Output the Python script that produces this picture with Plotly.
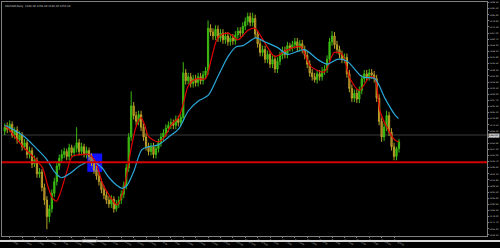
import plotly.graph_objects as go

# ---------------- data ----------------
bar_index = list(range(160))

opens = [1266,1270,1268,1273,1262,1267,1257,1262,1250,1254,
         1242,1246,1232,1236,1222,1224,1208,1195,1178,1186,
         1202,1214,1230,1238,1242,1245,1240,1249,1244,1248,
         1254,1245,1250,1243,1246,1240,1234,1226,1220,1214,
         1206,1200,1195,1191,1196,1186,1191,1195,1201,1210,
         1228,1260,1292,1282,1276,1283,1270,1260,1250,1245,
         1250,1242,1248,1254,1260,1264,1269,1272,1275,1272,
         1278,1275,1280,1326,1318,1322,1315,1320,1316,1322,
         1318,1324,1328,1372,1368,1364,1371,1362,1367,1360,
         1364,1358,1362,1359,1365,1369,1367,1374,1379,1384,
         1378,1382,1366,1356,1347,1350,1340,1345,1335,1340,
         1330,1338,1344,1349,1345,1354,1352,1355,1358,1352,
         1356,1350,1344,1335,1326,1322,1319,1325,1322,1328,
         1330,1340,1358,1364,1355,1350,1345,1340,1342,1325,
         1310,1300,1305,1299,1308,1320,1325,1322,1326,1324,
         1320,1300,1276,1260,1270,1282,1265,1250,1240,1248]

highs = [1274,1275,1277,1276,1270,1271,1266,1265,1258,1257,
         1250,1249,1241,1239,1228,1227,1212,1199,1190,1206,
         1218,1234,1242,1247,1249,1248,1253,1252,1251,1270,
         1258,1254,1253,1250,1249,1243,1237,1230,1224,1217,
         1210,1204,1199,1200,1199,1195,1199,1205,1214,1232,
         1264,1307,1296,1286,1287,1287,1274,1264,1254,1254,
         1254,1252,1258,1264,1268,1273,1276,1279,1278,1282,
         1282,1284,1337,1330,1326,1326,1324,1324,1326,1326,
         1328,1332,1380,1376,1372,1375,1375,1371,1371,1368,
         1368,1366,1366,1369,1373,1373,1378,1383,1388,1388,
         1388,1386,1370,1360,1354,1354,1349,1349,1344,1344,
         1342,1348,1353,1353,1358,1357,1359,1362,1362,1360,
         1360,1354,1348,1339,1330,1326,1329,1329,1332,1334,
         1344,1362,1369,1368,1359,1354,1349,1346,1346,1329,
         1314,1309,1309,1312,1324,1329,1329,1330,1330,1328,
         1324,1304,1280,1274,1287,1286,1269,1254,1250,1258]

lows = [1262,1264,1265,1259,1258,1253,1254,1246,1247,1238,
        1238,1228,1229,1218,1218,1204,1190,1165,1172,1182,
        1198,1210,1226,1234,1238,1236,1236,1240,1240,1244,
        1241,1241,1239,1238,1236,1230,1222,1216,1210,1202,
        1196,1191,1187,1187,1182,1183,1187,1191,1197,1206,
        1224,1256,1278,1272,1272,1266,1256,1246,1241,1241,
        1238,1238,1244,1250,1256,1260,1265,1268,1268,1268,
        1271,1271,1276,1314,1314,1311,1311,1312,1312,1314,
        1314,1320,1324,1364,1360,1360,1358,1358,1356,1356,
        1354,1354,1355,1355,1361,1363,1363,1370,1375,1374,
        1374,1362,1352,1343,1343,1336,1336,1331,1331,1326,
        1326,1334,1340,1341,1341,1348,1348,1351,1348,1348,
        1346,1340,1331,1322,1318,1316,1315,1318,1318,1324,
        1326,1336,1354,1351,1346,1341,1336,1336,1321,1306,
        1296,1296,1295,1295,1304,1316,1318,1318,1320,1316,
        1296,1272,1255,1256,1266,1261,1246,1236,1236,1244]

closes = [1270,1268,1273,1262,1267,1257,1262,1250,1254,1242,
          1246,1232,1236,1222,1224,1208,1195,1178,1186,1202,
          1214,1230,1238,1242,1245,1240,1249,1244,1248,1254,
          1245,1250,1243,1246,1240,1234,1226,1220,1214,1206,
          1200,1195,1191,1196,1186,1191,1195,1201,1210,1228,
          1260,1292,1282,1276,1283,1270,1260,1250,1245,1250,
          1242,1248,1254,1260,1264,1269,1272,1275,1272,1278,
          1275,1280,1326,1318,1322,1315,1320,1316,1322,1318,
          1324,1328,1372,1368,1364,1371,1362,1367,1360,1364,
          1358,1362,1359,1365,1369,1367,1374,1379,1384,1378,
          1382,1366,1356,1347,1350,1340,1345,1335,1340,1330,
          1338,1344,1349,1345,1354,1352,1355,1358,1352,1356,
          1350,1344,1335,1326,1322,1319,1325,1322,1328,1330,
          1340,1358,1364,1355,1350,1345,1340,1342,1325,1310,
          1300,1305,1299,1308,1320,1325,1322,1326,1324,1320,
          1300,1276,1260,1270,1282,1265,1250,1240,1248,1255]

fast_ma_x = [0, 0.9, 4.1, 8.1, 12.1, 15.3, 17.3, 19.3, 20.9, 22.1, 24.9, 27.3,
             31.3, 34.1, 36.9, 39.3, 42.1, 45.3, 47.3, 48.9, 50.9, 52.9, 54.9,
             56.5, 58.1, 62.1, 64.5, 67.3, 70.1, 72.1, 74.1, 77.3, 80.9, 83.3,
             86.1, 90.1, 94.1, 98.1, 100.9, 104.9, 108.9, 114.1, 119.3, 123.3,
             128.9, 132.9, 136.1, 139.3, 143.0, 147.3, 149.3, 151.3, 154.1,
             157.3, 158.8]
fast_ma_y = [1271, 1270, 1260, 1248, 1238, 1228, 1210, 1197, 1194, 1200, 1223, 1240,
             1242, 1242, 1233, 1213, 1200, 1190, 1200, 1217, 1247, 1270, 1280,
             1272, 1260, 1255, 1260, 1273, 1280, 1295, 1313, 1320, 1320, 1340,
             1363, 1367, 1360, 1370, 1372, 1357, 1343, 1350, 1353, 1333,
             1327, 1347, 1345, 1320, 1308, 1322, 1320, 1287, 1270,
             1257, 1255]

slow_ma_x = [0, 3.3, 8.1, 12.1, 16.9, 20.1, 22.9, 26.1, 30.1, 33.3, 36.1, 39.3,
             42.1, 45.3, 47.3, 49.3, 52.1, 55.3, 58.1, 62.1, 66.1, 70.1, 74.1,
             78.1, 82.1, 86.1, 90.1, 93.3, 96.1, 101.3, 104.9, 110.1, 114.1,
             120.9, 126.1, 130.1, 134.1, 138.1, 144.1, 149.3, 153.3, 157.3, 158.8]
slow_ma_y = [1272, 1268, 1260, 1250, 1237, 1224, 1218, 1222, 1230, 1234, 1234, 1228,
             1218, 1210, 1207, 1210, 1225, 1247, 1250, 1252, 1260, 1268, 1287,
             1297, 1303, 1323, 1343, 1353, 1354, 1362, 1358, 1352, 1345,
             1350, 1340, 1335, 1340, 1338, 1322, 1320, 1300, 1283, 1279]

date_tick_pos = [2, 7, 12, 17, 22, 27, 32, 37, 42, 47, 52, 57, 62, 67, 72, 77,
                 82, 87, 92, 97, 102, 107, 112, 117, 122, 127, 132, 137, 142, 147, 152, 157]
date_labels = ["8 Jan 2018", "15 Jan 2018", "22 Jan 2018", "29 Jan 2018", "5 Feb 2018",
               "12 Feb 2018", "19 Feb 2018", "26 Feb 2018", "5 Mar 2018", "12 Mar 2018",
               "19 Mar 2018", "26 Mar 2018", "2 Apr 2018", "9 Apr 2018", "16 Apr 2018",
               "23 Apr 2018", "30 Apr 2018", "7 May 2018", "14 May 2018", "21 May 2018",
               "28 May 2018", "4 Jun 2018", "11 Jun 2018", "18 Jun 2018", "25 Jun 2018",
               "2 Jul 2018", "9 Jul 2018", "16 Jul 2018", "23 Jul 2018", "30 Jul 2018",
               "6 Aug 2018", "13 Aug 2018"]

current_price = 1262
support_level = 1234
zone_bars = [33.3, 39.3]
zone_prices = [1224, 1243]
chart_title = "XAUUSD,Daily  1248.20 1258.40 1244.10 1255.30"

# ---------------- figure ----------------
fig = go.Figure()

fig.add_trace(go.Candlestick(
    x=bar_index, open=opens, high=highs, low=lows, close=closes,
    increasing=dict(line=dict(color="#3dbb12", width=1), fillcolor="#3dbb12"),
    decreasing=dict(line=dict(color="#b9a12a", width=1), fillcolor="#a8501c"),
    whiskerwidth=0, showlegend=False, hoverinfo="skip"))

fig.add_trace(go.Scatter(x=fast_ma_x, y=fast_ma_y, mode="lines",
                         line=dict(color="#e00000", width=1.2, shape="spline", smoothing=0.8),
                         showlegend=False, hoverinfo="skip"))
fig.add_trace(go.Scatter(x=slow_ma_x, y=slow_ma_y, mode="lines",
                         line=dict(color="#2aa7d8", width=1.2, shape="spline", smoothing=0.8),
                         showlegend=False, hoverinfo="skip"))

# horizontal levels
fig.add_hline(y=current_price, line=dict(color="#3a3a3a", width=1), layer="below")
fig.add_hline(y=support_level, line=dict(color="#d40000", width=2), layer="above")

# blue zone
fig.add_shape(type="rect", xref="x", yref="y",
              x0=zone_bars[0], x1=zone_bars[1], y0=zone_prices[0], y1=zone_prices[1],
              fillcolor="#1010ff", line=dict(width=0), layer="below")

# bottom tab strip (y 246..248 px)
fig.add_shape(type="rect", xref="paper", yref="paper", x0=-0.01, x1=1.03,
              y0=-0.026, y1=-0.0166, fillcolor="#d8d8d8", line=dict(width=0), layer="below")
fig.add_shape(type="rect", xref="paper", yref="paper", x0=0.165, x1=0.195,
              y0=-0.026, y1=-0.0166, fillcolor="#ffffff", line=dict(color="#909090", width=0.5),
              layer="below")

# price tag for current price on the right scale
fig.add_annotation(text="%.2f" % current_price, xref="paper", yref="y", x=1.002, y=current_price,
                   xanchor="left", yanchor="middle", showarrow=False, bgcolor="#c8c8c8",
                   borderpad=0, font=dict(family="DejaVu Sans", size=2.2, color="#000000"))

fig.add_annotation(text=chart_title, xref="paper", yref="paper", x=0.002, y=0.997,
                   xanchor="left", yanchor="top", showarrow=False,
                   font=dict(family="DejaVu Sans", size=2.6, color="#d0d0d0"))

fig.update_layout(
    width=500, height=248,
    margin=dict(l=2, r=9, t=1, b=6),
    paper_bgcolor="#000000", plot_bgcolor="#000000",
    font=dict(family="DejaVu Sans", color="#c8c8c8"),
    xaxis=dict(range=[-1.1, 194.5], showgrid=False, zeroline=False,
               rangeslider=dict(visible=False),
               tickmode="array", tickvals=date_tick_pos, ticktext=date_labels,
               tickfont=dict(size=1.8, color="#c8c8c8"), ticks="outside", ticklen=1,
               tickcolor="#808080",
               showline=True, linecolor="#808080", linewidth=1, mirror=True),
    yaxis=dict(range=[1158, 1399], side="right", showgrid=False, zeroline=False,
               tick0=1159.1, dtick=6.3, tickformat=".2f",
               tickfont=dict(size=2.2, color="#c8c8c8"), ticks="outside", ticklen=1,
               tickcolor="#808080",
               showline=True, linecolor="#808080", linewidth=1, mirror=True),
)

fig.write_html("out.html")
